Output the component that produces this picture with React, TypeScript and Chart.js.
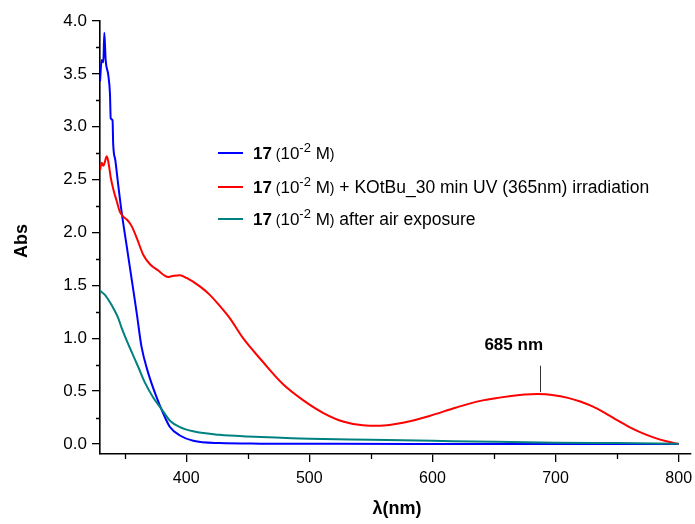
import React, { useEffect, useRef } from "react";
import { Chart, registerables } from "chart.js";

Chart.register(...registerables);

// ---- data ----
const wlBlue = [330, 331.4, 332.7, 333.5, 334.6, 336.7, 338.1, 338.7, 340.2, 340.7, 342.5, 344.8, 347.6, 351.7, 355.7, 359.8, 363.7, 369.2, 376, 381.3, 386.8, 394.9, 405.7, 427, 460, 520, 600, 700, 800];
const absBlue = [3.43, 3.63, 3.61, 3.89, 3.63, 3.49, 3.31, 3.08, 3.06, 2.84, 2.68, 2.45, 2.19, 1.87, 1.56, 1.24, 0.92, 0.67, 0.44, 0.29, 0.16, 0.08, 0.03, 0.008, 0.003, 0.001, 0.0, 0.0, 0.0];

const wlRed = [330, 331.4, 332.7, 333.5, 335.5, 336.9, 338.7, 341, 343.5, 346, 348.9, 352, 355.7, 359.8, 365.1, 370.6, 377.3, 385.4, 390, 394.9, 400.3, 411.1, 419.2, 427.3, 435.4, 446.2, 462.4, 478.7, 494.9, 511.1, 527.3, 543.5, 557.1, 576, 597.6, 619.3, 640.9, 662.5, 675, 685, 700, 710, 720, 730, 740, 750, 760, 770, 780, 790, 800];
const absRed = [2.59, 2.66, 2.63, 2.65, 2.72, 2.66, 2.52, 2.4, 2.3, 2.2, 2.15, 2.12, 2.06, 1.95, 1.79, 1.7, 1.64, 1.58, 1.59, 1.595, 1.57, 1.49, 1.41, 1.305, 1.19, 1.0, 0.775, 0.565, 0.415, 0.295, 0.213, 0.177, 0.172, 0.2, 0.265, 0.345, 0.412, 0.452, 0.467, 0.472, 0.458, 0.436, 0.402, 0.355, 0.295, 0.225, 0.16, 0.105, 0.06, 0.025, 0.0];

const wlTeal = [330, 334, 338.1, 341.5, 344.8, 347.5, 350.2, 355.7, 361, 366.5, 373.2, 380, 386.8, 394.9, 405.7, 427, 450, 500, 550, 600, 650, 700, 750, 800];
const absTeal = [1.45, 1.41, 1.34, 1.27, 1.19, 1.1, 1.02, 0.87, 0.73, 0.58, 0.44, 0.33, 0.22, 0.16, 0.12, 0.086, 0.07, 0.05, 0.04, 0.03, 0.02, 0.012, 0.008, 0.003];

const seriesColors = ["#0000FF", "#FF0000", "#008080"];
const legendSuffix = ["", " + KOtBu_30 min UV (365nm) irradiation", " after air exposure"];

const peakLabel = "685 nm";
const peakWl = 687;
const peakLineAbs = [0.49, 0.74];
const peakTextPos = [666, 0.93];

const xTitle = "λ(nm)";
const yTitle = "Abs";

const FONT = "'Liberation Sans', Arial, sans-serif";

function toPts(xs: number[], ys: number[]) {
  return xs.map((x, i) => ({ x, y: ys[i] }));
}

const overlay = {
  id: "overlay",
  afterDraw(chart: any) {
    const ctx: CanvasRenderingContext2D = chart.ctx;
    const xs = chart.scales.x;
    const ys = chart.scales.y;
    const area = chart.chartArea;
    ctx.save();
    ctx.strokeStyle = "#000";
    ctx.lineWidth = 1.3;
    // minor ticks
    ctx.beginPath();
    for (let v = 350; v < 810; v += 100) {
      const px = Math.round(xs.getPixelForValue(v)) + 0.5;
      ctx.moveTo(px, area.bottom);
      ctx.lineTo(px, area.bottom + 5);
    }
    for (let v = 0.25; v < 4; v += 0.5) {
      const py = Math.round(ys.getPixelForValue(v)) + 0.5;
      ctx.moveTo(area.left, py);
      ctx.lineTo(area.left - 4, py);
    }
    ctx.stroke();

    // axis titles
    ctx.fillStyle = "#000";
    ctx.font = `bold 18px ${FONT}`;
    ctx.textAlign = "center";
    ctx.textBaseline = "middle";
    ctx.fillText(xTitle, 397, 509);
    ctx.save();
    ctx.translate(22, 241);
    ctx.rotate(-Math.PI / 2);
    ctx.fillText(yTitle, 0, 0);
    ctx.restore();

    // peak annotation
    ctx.lineWidth = 1;
    ctx.strokeStyle = "#333";
    const ax = Math.round(xs.getPixelForValue(peakWl)) + 0.5;
    ctx.beginPath();
    ctx.moveTo(ax, ys.getPixelForValue(peakLineAbs[1]));
    ctx.lineTo(ax, ys.getPixelForValue(peakLineAbs[0]));
    ctx.stroke();
    ctx.font = `bold 17px ${FONT}`;
    ctx.fillText(peakLabel, xs.getPixelForValue(peakTextPos[0]), ys.getPixelForValue(peakTextPos[1]));

    // legend
    const rows = [153, 187, 219];
    ctx.textAlign = "left";
    ctx.textBaseline = "alphabetic";
    rows.forEach((ry, i) => {
      ctx.strokeStyle = seriesColors[i];
      ctx.lineWidth = 2;
      ctx.beginPath();
      ctx.moveTo(218, ry);
      ctx.lineTo(243, ry);
      ctx.stroke();
      const base = ry + 6;
      const segs: [string, string, number][] = [
        ["17", `bold 17px ${FONT}`, 0],
        [" (", `14px ${FONT}`, 0],
        ["10", `17px ${FONT}`, 0],
        ["-2", `13px ${FONT}`, -7],
        [" M", `17px ${FONT}`, 0],
        [")", `14px ${FONT}`, 0],
        [legendSuffix[i], `17.5px ${FONT}`, 0],
      ];
      let x = 253;
      segs.forEach(([t, f, dy]) => {
        ctx.font = f;
        ctx.fillStyle = "#000";
        ctx.fillText(t, x, base + dy);
        x += ctx.measureText(t).width;
      });
    });
    ctx.restore();
  },
};

export default function App() {
  const ref = useRef<HTMLCanvasElement | null>(null);
  useEffect(() => {
    if (!ref.current) return;
    const mk = (label: string, xs: number[], ys: number[], color: string, order: number) => ({
      label,
      data: toPts(xs, ys),
      borderColor: color,
      backgroundColor: color,
      borderWidth: 2,
      pointRadius: 0,
      fill: false,
      cubicInterpolationMode: "monotone" as const,
      order,
    });
    const chart = new Chart(ref.current, {
      type: "line",
      data: {
        datasets: [
          mk("blue", wlBlue, absBlue, seriesColors[0], 2),
          mk("red", wlRed, absRed, seriesColors[1], 1),
          mk("teal", wlTeal, absTeal, seriesColors[2], 0),
        ],
      },
      options: {
        responsive: false,
        animation: false,
        devicePixelRatio: 1,
        layout: { padding: { top: 21, right: 4, left: 0, bottom: 0 } },
        plugins: { legend: { display: false }, tooltip: { enabled: false } },
        scales: {
          x: {
            type: "linear",
            min: 330,
            max: 810,
            afterFit: (s: any) => {
              s.height = 70;
              s.paddingLeft = 0;
              s.paddingRight = 0;
            },
            ticks: {
              stepSize: 100,
              includeBounds: false,
              color: "#000",
              padding: 7,
              font: { family: FONT, size: 16 },
              maxRotation: 0,
            },
            grid: { drawOnChartArea: false, drawTicks: true, tickLength: 8, color: "#000", lineWidth: 1.3 },
            border: { display: true, color: "#000", width: 1.6 },
          },
          y: {
            type: "linear",
            min: -0.095,
            max: 4.0,
            afterFit: (s: any) => {
              s.width = 100;
              s.paddingTop = 0;
              s.paddingBottom = 0;
            },
            ticks: {
              stepSize: 0.5,
              includeBounds: false,
              color: "#000",
              padding: 5,
              font: { family: FONT, size: 17 },
              callback: (v: any) => Number(v).toFixed(1),
            },
            grid: { drawOnChartArea: false, drawTicks: true, tickLength: 8, color: "#000", lineWidth: 1.3 },
            border: { display: true, color: "#000", width: 1.6 },
          },
        },
      },
      plugins: [overlay],
    });
    return () => chart.destroy();
  }, []);
  return (
    <div style={{ position: "absolute", left: 0, top: 0, width: 695, height: 524, background: "#fff" }}>
      <canvas ref={ref} width={695} height={524} />
    </div>
  );
}
